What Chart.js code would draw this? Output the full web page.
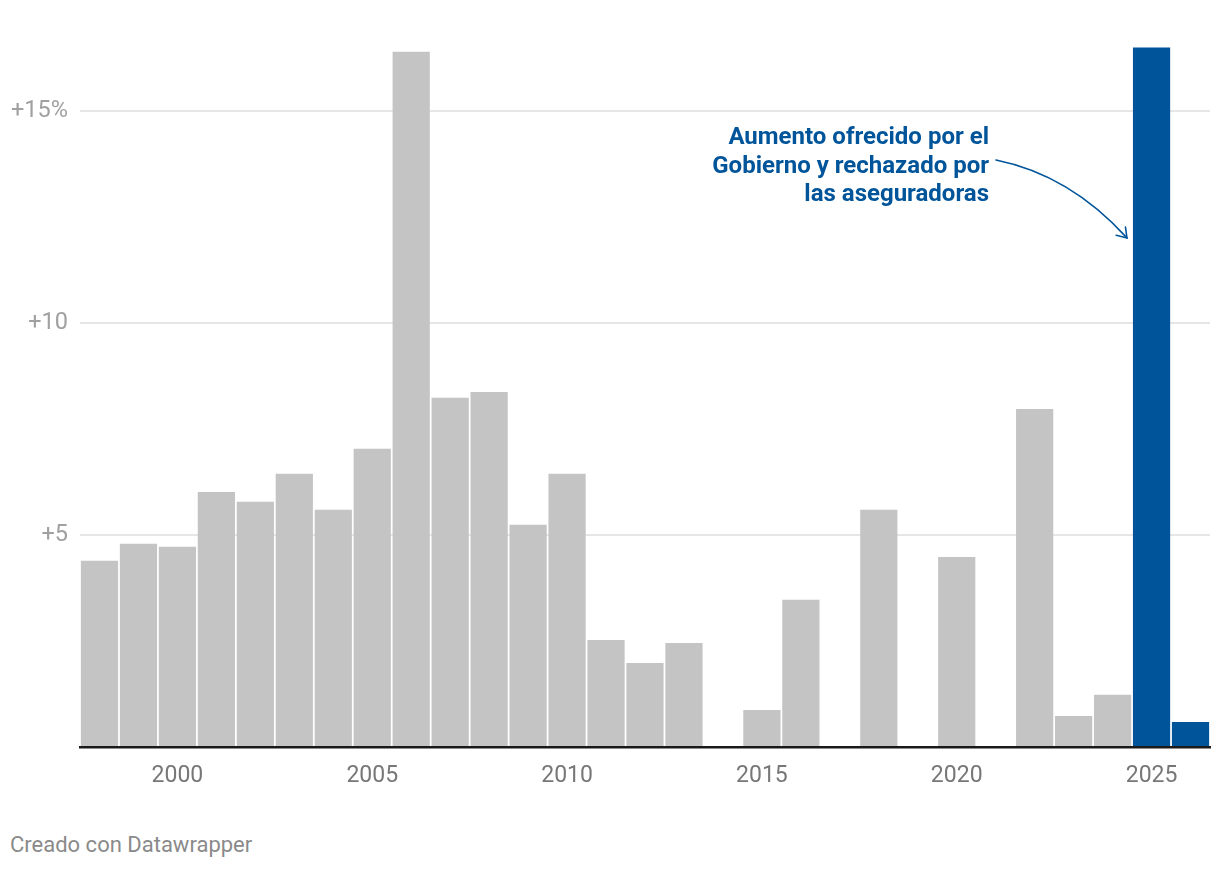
<!DOCTYPE html>
<html>
<head>
<meta charset="utf-8">
<script src="https://cdn.jsdelivr.net/npm/chart.js@4"></script>
<style>
  html, body { margin: 0; padding: 0; background: #fff; }
  body { width: 1220px; height: 870px; position: relative; overflow: hidden; font-family: Roboto, sans-serif; }
  #wrap { position: absolute; left: 0; top: 0; width: 1220px; height: 800px; }
  #note { position: absolute; right: 231px; top: 122px; text-align: right; color: #00559a;
          font: bold 24px/28.5px Roboto, sans-serif; white-space: nowrap; }
  #footer { position: absolute; left: 10px; top: 832px; color: #8a8a8a; font: 22px Roboto, sans-serif; }
</style>
</head>
<body>
<div id="wrap"><canvas id="c" width="1220" height="800"></canvas></div>
<div id="note">Aumento ofrecido por el<br>Gobierno y rechazado por<br>las aseguradoras</div>
<div id="footer">Creado con Datawrapper</div>
<script>
const years = ['1998','1999','2000','2001','2002','2003','2004','2005','2006','2007','2008','2009','2010','2011','2012','2013','2014','2015','2016','2017','2018','2019','2020','2021','2022','2023','2024','2025','2026'];
const increases = [4.39,4.79,4.72,6.01,5.78,6.44,5.59,7.03,16.39,8.23,8.37,5.24,6.44,2.52,1.98,2.45,null,0.87,3.47,null,5.59,null,4.48,null,7.97,0.73,1.23,16.49,0.59];
const highlightYears = ['2025','2026'];
const yTickValues = [5,10,15];
const xTickLabels = ['2000','2005','2010','2015','2020','2025'];

const GRAY = '#c4c4c4', BLUE = '#00559a';

const arrowPlugin = {
  id: 'arrow',
  afterDatasetsDraw(chart) {
    const ctx = chart.ctx;
    const y = chart.scales.y;
    const idx = years.indexOf('2025');
    const bar = chart.getDatasetMeta(0).data[idx];
    const ex = bar.x - bar.width / 2 - 6;
    const ey = y.getPixelForValue(12.0);
    const sx = 996, sy = 160;
    const cx = 1070, cy = 175;
    ctx.save();
    ctx.strokeStyle = BLUE;
    ctx.lineWidth = 1.6;
    ctx.lineCap = 'round';
    ctx.beginPath();
    ctx.moveTo(sx, sy);
    ctx.quadraticCurveTo(cx, cy, ex, ey);
    ctx.stroke();
    const ang = Math.atan2(ey - cy, ex - cx);
    const L = 11;
    ctx.beginPath();
    ctx.moveTo(ex - L * Math.cos(ang - 0.6), ey - L * Math.sin(ang - 0.6));
    ctx.lineTo(ex, ey);
    ctx.lineTo(ex - L * Math.cos(ang + 0.6), ey - L * Math.sin(ang + 0.6));
    ctx.stroke();
    ctx.restore();
  }
};

new Chart(document.getElementById('c'), {
  type: 'bar',
  data: {
    labels: years,
    datasets: [{
      data: increases,
      backgroundColor: years.map(y => highlightYears.includes(y) ? BLUE : GRAY),
      borderWidth: 0,
      barPercentage: 0.955,
      categoryPercentage: 1
    }]
  },
  options: {
    responsive: false,
    animation: false,
    events: [],
    layout: { padding: { left: 0, right: 10, top: 47, bottom: 0 } },
    plugins: { legend: { display: false }, tooltip: { enabled: false } },
    scales: {
      x: {
        grid: { display: false, drawTicks: false },
        border: { display: true, color: '#1a1a1a', width: 2.5, z: 1 },
        ticks: {
          autoSkip: false, maxRotation: 0, padding: 15,
          color: '#777', font: { family: 'Roboto', size: 23 },
          callback(v) { const l = years[v]; return xTickLabels.includes(l) ? l : ''; }
        },
        afterFit(s) { s.height = 53; }
      },
      y: {
        min: 0, max: 16.5,
        afterBuildTicks(s) { s.ticks = yTickValues.map(v => ({ value: v })); },
        grid: { color: '#e6e6e6', lineWidth: 2, drawTicks: false },
        border: { display: false },
        ticks: {
          padding: 12, color: '#a0a0a0', font: { family: 'Roboto', size: 23.5 },
          callback(v) { return v === 15 ? '+15%' : '+' + v; }
        },
        afterFit(s) { s.width = 80; }
      }
    }
  },
  plugins: [arrowPlugin]
});
</script>
</body>
</html>
